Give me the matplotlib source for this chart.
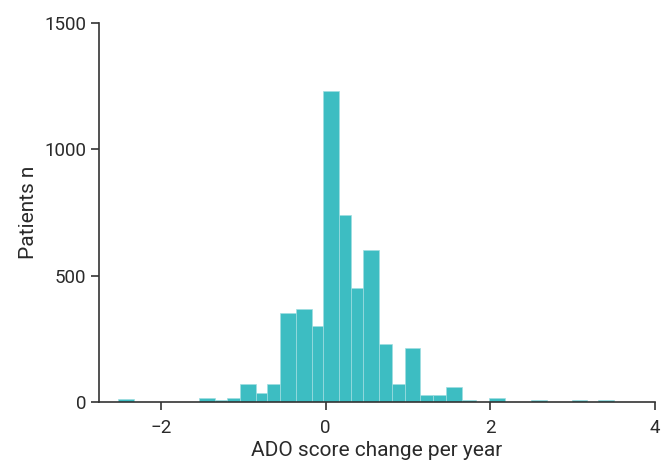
import numpy as np
import matplotlib.pyplot as plt

# histogram bins (ADO score change per year)
bin_left = [-2.52, -1.54, -1.34, -1.20, -1.04, -0.85, -0.71, -0.55, -0.36, -0.17,
            -0.03, 0.16, 0.31, 0.46, 0.65, 0.81, 0.96, 1.15, 1.31, 1.46,
            1.66, 1.99, 2.50, 2.99, 3.31]
bin_right = [-2.32, -1.34, -1.20, -1.04, -0.85, -0.71, -0.55, -0.36, -0.17, -0.03,
             0.16, 0.31, 0.46, 0.65, 0.81, 0.96, 1.15, 1.31, 1.46, 1.66,
             1.83, 2.18, 2.69, 3.18, 3.50]
patients = [10, 15, 8, 15, 72, 37, 70, 351, 370, 302,
            1232, 741, 453, 603, 228, 70, 213, 29, 29, 58,
            7, 17, 8, 8, 8]

xticks = [-2, 0, 2, 4]
yticks = [0, 500, 1000, 1500]

plt.rcParams['font.family'] = ['Roboto', 'DejaVu Sans']

fig = plt.figure(figsize=(6.7, 4.62), dpi=100)
ax = fig.add_axes([0.1478, 0.1299, 0.8298, 0.8203])

left = np.array(bin_left)
width = np.array(bin_right) - left
ax.bar(left, patients, width=width, align='edge', color='#3dbdc2',
       edgecolor='#9fdde0', linewidth=0.5)

ax.set_xlim(-2.75, 4)
ax.set_ylim(0, 1500)
ax.set_xticks(xticks)
ax.set_xticklabels(['\u22122', '0', '2', '4'])
ax.set_yticks(yticks)

for side in ['top', 'right']:
    ax.spines[side].set_visible(False)
for side in ['left', 'bottom']:
    ax.spines[side].set_color('#333333')
    ax.spines[side].set_linewidth(1.2)

ax.tick_params(axis='both', colors='#333333', labelsize=13.5, length=6, width=1.2)
ax.tick_params(axis='x', pad=6)
ax.tick_params(axis='y', pad=3)
ax.tick_params(axis='both', labelcolor='#2a2a2a')

ax.set_xlabel('ADO score change per year', fontsize=15, color='#2a2a2a', labelpad=3)
ax.set_ylabel('Patients n', fontsize=15, color='#2a2a2a', labelpad=5)

fig.savefig('out.png', dpi=100)
plt.close()
